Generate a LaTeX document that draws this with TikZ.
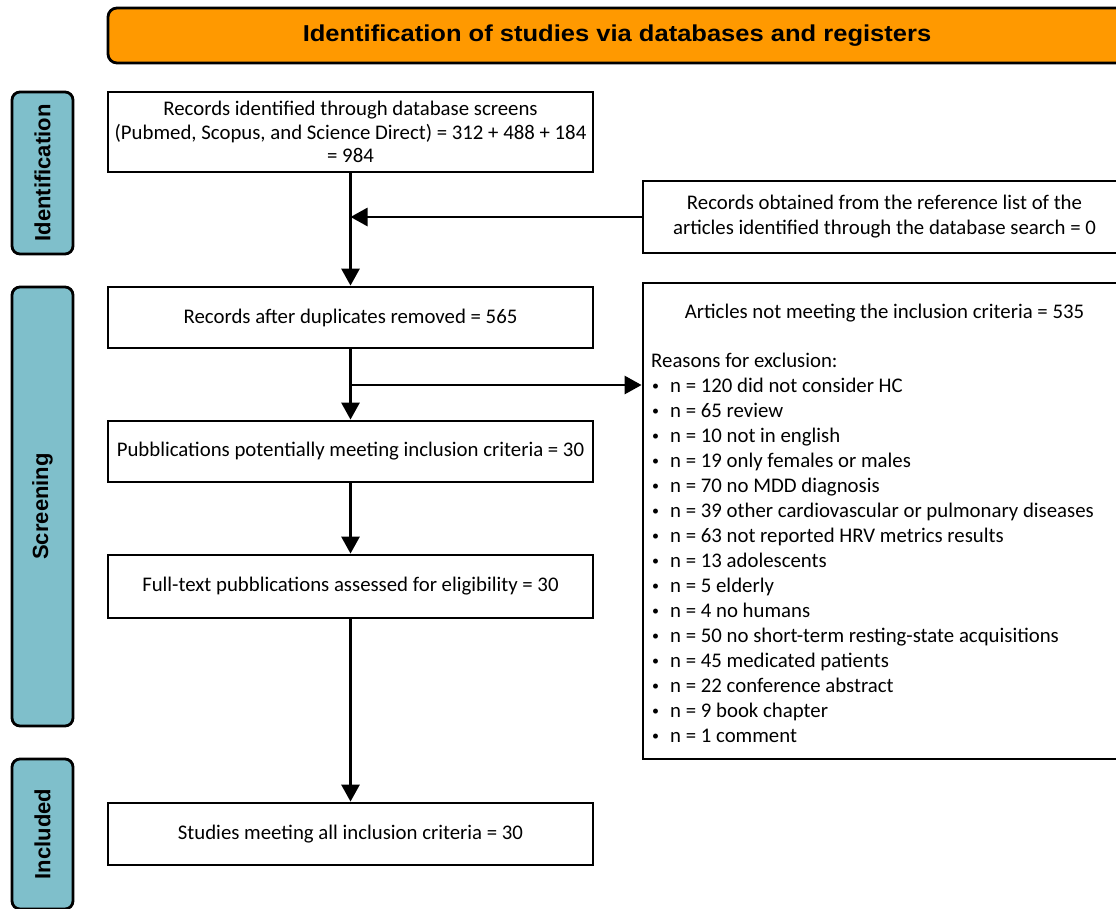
\documentclass[tikz,border=0pt]{standalone}
\usepackage{fontspec}
\setmainfont{Carlito}
\newfontfamily\headfont{Liberation Sans}
\usetikzlibrary{arrows.meta}

\definecolor{prismaorange}{HTML}{FF9900}
\definecolor{prismateal}{HTML}{7FBFCB}

\tikzset{
  box/.style={draw, line width=2.8pt, fill=white, minimum width=485pt,
    minimum height=62pt, inner sep=0pt, align=center,
    font=\fontsize{20.8}{23.5}\selectfont},
  phase/.style={draw, line width=2.8pt, rounded corners=8pt, fill=prismateal,
    rotate=90, minimum height=61pt, inner sep=0pt,
    font=\headfont\bfseries\fontsize{22}{26}\selectfont},
  reason/.style={anchor=base west, inner sep=0pt, font=\fontsize{20.8}{25}\selectfont},
  arr/.style={line width=2.8pt, -{Triangle[length=17pt,width=18pt]}},
}
\newcommand{\smallbullet}{\makebox[19pt][l]{\hspace{1pt}\raisebox{1.8pt}{\fontsize{14}{14}\selectfont\textbullet}}}

\begin{document}
\begin{tikzpicture}[x=1pt,y=-1pt]
  \useasboundingbox (0,0) rectangle (1116,908);
  \clip (0,0) rectangle (1116,908);
  % header bar
  \node[draw, line width=2.8pt, rounded corners=9pt, fill=prismaorange,
    minimum width=1018pt, minimum height=55pt, inner sep=0pt,
    font=\headfont\bfseries\fontsize{23}{27}\selectfont] (head) at (617,35.5)
    {\scalebox{1.11}[1]{Identification of studies via databases and registers}};
  % phase labels on the left
  \node[phase, minimum width=162pt] (idlab) at (42.5,173) {Identification};
  \node[phase, minimum width=439pt] (scrlab) at (42.5,506.5) {Screening};
  \node[phase, minimum width=150pt] (inclab) at (42.5,834) {Included};
  % main column
  \node[box, minimum height=80pt] (recs) at (350.5,132)
    {Records identified through database screens\\
     (Pubmed, Scopus, and Science Direct) = 312 + 488 + 184\\
     = 984};
  \node[box, minimum height=61pt] (dup) at (350.5,317.5)
    {Records after duplicates removed = 565};
  \node[box, minimum height=61pt] (pot) at (350.5,451.5)
    {Pubblications potentially meeting inclusion criteria = 30};
  \node[box, minimum height=63pt] (full) at (350.5,586.5)
    {Full-text pubblications assessed for eligibility = 30};
  \node[box, minimum height=62pt] (incl) at (350.5,834)
    {Studies meeting all inclusion criteria = 30};
  % side column
  \node[box, minimum width=483pt, minimum height=72pt, font=\fontsize{20.8}{25}\selectfont] (refs) at (884.5,217)
    {Records obtained from the reference list of the\\
     articles identified through the database search = 0};
  \node[box, minimum width=483pt, minimum height=476pt] (excl) at (884.5,521) {};
  \node[anchor=base, inner sep=0pt, font=\fontsize{20.8}{25}\selectfont] (excltitle) at (884.5,318)
    {Articles not meeting the inclusion criteria = 535};
  \node[reason] (why) at (651,367) {Reasons for exclusion:};
  \foreach \t [count=\i] in {n = 120 did not consider HC, n = 65 review,
      n = 10 not in english, n = 19 only females or males,
      n = 70 no MDD diagnosis, n = 39 other cardiovascular or pulmonary diseases,
      n = 63 not reported HRV metrics results, n = 13 adolescents,
      n = 5 elderly, n = 4 no humans,
      n = 50 no short-term resting-state acquisitions,
      n = 45 medicated patients, n = 22 conference abstract,
      n = 9 book chapter, n = 1 comment}
    \node[reason] (r\i) at (651,367+25*\i) {\smallbullet\t};
  % connectors
  \coordinate (split) at (350.5,385);
  \draw[arr] (recs) -- (dup);
  \draw[arr] (refs.west) -- (refs.west -| recs.south);
  \draw[arr] (split) -- (split -| excl.west);
  \draw[arr] (dup) -- (pot);
  \draw[arr] (pot) -- (full);
  \draw[arr] (full) -- (incl);
\end{tikzpicture}
\end{document}
